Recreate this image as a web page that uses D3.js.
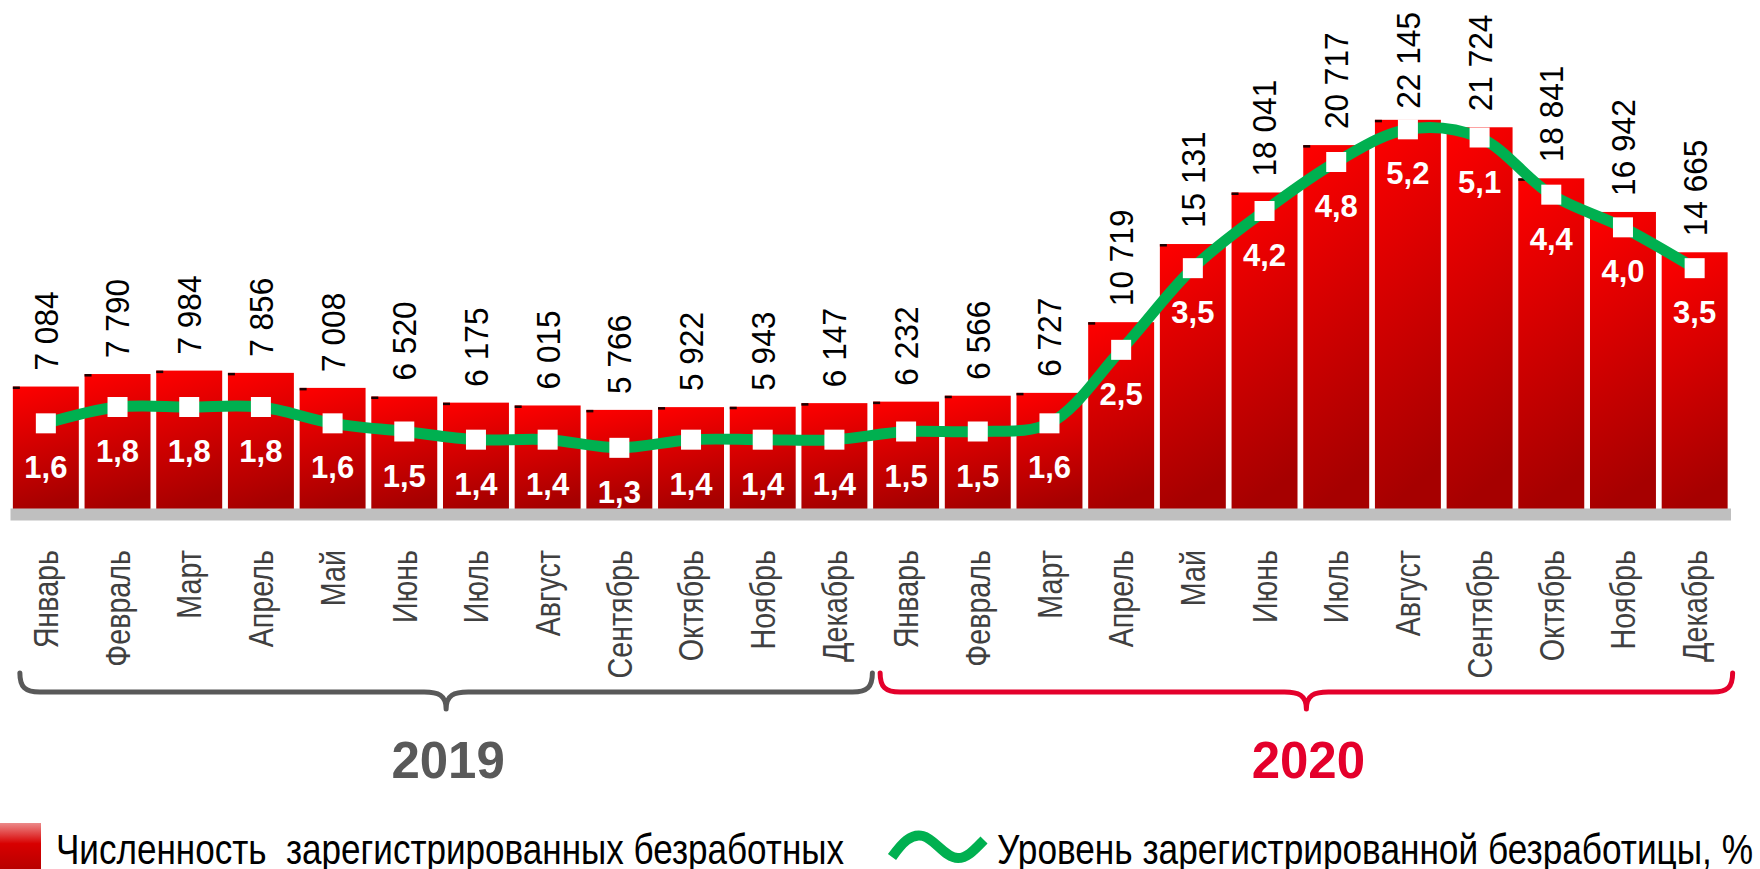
<!DOCTYPE html>
<html>
<head>
<meta charset="utf-8">
<script src="https://cdn.jsdelivr.net/npm/d3@7"></script>
<style>
  html, body { margin: 0; padding: 0; background: #ffffff; }
  svg { display: block; font-family: "Liberation Sans", Arial, sans-serif; }
</style>
</head>
<body>
<svg id="chart" width="1760" height="869"></svg>
<script>
// ---------------- DATA ----------------
const months2019 = ["Январь","Февраль","Март","Апрель","Май","Июнь","Июль","Август","Сентябрь","Октябрь","Ноябрь","Декабрь"];
const months2020 = ["Январь","Февраль","Март","Апрель","Май","Июнь","Июль","Август","Сентябрь","Октябрь","Ноябрь","Декабрь"];
const years = ["2019", "2020"];
const unemployedCount = [7084, 7790, 7984, 7856, 7008, 6520, 6175, 6015, 5766, 5922, 5943, 6147,
                         6232, 6566, 6727, 10719, 15131, 18041, 20717, 22145, 21724, 18841, 16942, 14665];
const unemploymentRate = [1.6, 1.8, 1.8, 1.8, 1.6, 1.5, 1.4, 1.4, 1.3, 1.4, 1.4, 1.4,
                          1.5, 1.5, 1.6, 2.5, 3.5, 4.2, 4.8, 5.2, 5.1, 4.4, 4.0, 3.5];
const legendLabels = ["Численность  зарегистрированных безработных", "Уровень зарегистрированной безработицы, %"];

// ---------------- SETUP ----------------
const monthLabels = months2019.concat(months2020);
const n = unemployedCount.length;
const svg = d3.select("#chart");
const locale = d3.formatLocale({ decimal: ",", thousands: "\u00a0", grouping: [3], currency: ["", ""] });
const fmtCount = locale.format(",d");
const fmtRate = locale.format(".1f");

const x = d3.scaleBand().domain(d3.range(n)).range([10, 1730.5]).paddingInner(0.08).paddingOuter(0.04);
const yBar = d3.scaleLinear().domain([0, 25000]).range([512, 69.25]);
const yRate = d3.scaleLinear().domain([0, 6]).range([554, 64]);
const bw = x.bandwidth();
const cx = i => x(i) + bw / 2;

const defs = svg.append("defs");
const g1 = defs.append("linearGradient").attr("id", "barGrad").attr("x1", 0).attr("y1", 0).attr("x2", 0.15).attr("y2", 1);
g1.append("stop").attr("offset", "0%").attr("stop-color", "#ff0000");
g1.append("stop").attr("offset", "100%").attr("stop-color", "#a60000");
const g2 = defs.append("linearGradient").attr("id", "legGrad").attr("x1", 0).attr("y1", 0).attr("x2", 0).attr("y2", 1);
g2.append("stop").attr("offset", "0%").attr("stop-color", "#ec8a8a");
g2.append("stop").attr("offset", "45%").attr("stop-color", "#d80000");
g2.append("stop").attr("offset", "100%").attr("stop-color", "#b80000");

// ---------------- BARS ----------------
svg.append("g").selectAll("rect").data(unemployedCount).join("rect")
  .attr("x", (d, i) => x(i))
  .attr("y", d => yBar(d))
  .attr("width", bw)
  .attr("height", d => yBar(0) - yBar(d))
  .attr("fill", "url(#barGrad)");

// small dark tick at bar top-left (as in the reference)
svg.append("g").selectAll("rect").data(unemployedCount).join("rect")
  .attr("x", (d, i) => x(i))
  .attr("y", d => yBar(d))
  .attr("width", 7)
  .attr("height", 2.5)
  .attr("fill", "#1a0000");

// ---------------- X AXIS ----------------
const axis = svg.append("g")
  .attr("transform", "translate(0,514)")
  .call(d3.axisBottom(x).tickSize(0).tickSizeOuter(0).tickFormat(i => monthLabels[i]));
axis.select(".domain").attr("stroke", "#bfbfbf").attr("stroke-width", 12);
axis.selectAll(".tick text")
  .attr("x", 0).attr("y", 0).attr("dy", "0.35em")
  .attr("text-anchor", "end")
  .attr("transform", "translate(0,36) rotate(-90) scale(0.82,1)")
  .attr("fill", "#404040")
  .style("font-size", "35px")
  .style("font-family", "\"Liberation Sans\", Arial, sans-serif");

// ---------------- VALUE LABELS (above bars) ----------------
const vl = svg.append("g").selectAll("text").data(unemployedCount).join("text")
  .text(d => fmtCount(d))
  .attr("x", 0).attr("y", 0).attr("dy", "0.35em")
  .attr("text-anchor", "start")
  .attr("fill", "#000")
  .style("font-size", "34px");
vl.each(function (d, i) {
  const sx = 0.93;
  const len = this.getComputedTextLength() * sx;
  const bottom = Math.max(yBar(d) - 16, 12 + len);
  d3.select(this).attr("transform", `translate(${cx(i)},${bottom}) rotate(-90) scale(${sx},1)`);
});

// ---------------- LINE ----------------
const line = d3.line().x((d, i) => cx(i)).y(d => yRate(d)).curve(d3.curveCatmullRom.alpha(0.5));
svg.append("path").datum(unemploymentRate)
  .attr("d", line)
  .attr("fill", "none")
  .attr("stroke", "#00b050")
  .attr("stroke-width", 11);

svg.append("g").selectAll("rect").data(unemploymentRate).join("rect")
  .attr("x", (d, i) => cx(i) - 10)
  .attr("y", d => yRate(d) - 10)
  .attr("width", 20).attr("height", 20)
  .attr("fill", "#ffffff");

svg.append("g").selectAll("text").data(unemploymentRate).join("text")
  .text(d => fmtRate(d))
  .attr("x", (d, i) => cx(i))
  .attr("y", d => yRate(d) + 55)
  .attr("text-anchor", "middle")
  .attr("fill", "#ffffff")
  .style("font-size", "31px")
  .style("font-weight", "bold");

// ---------------- BRACES & YEARS ----------------
function bracePath(x0, x1) {
  const yTop = 673, yMid = 692, yTip = 709, r = 20;
  const c = (x0 + x1) / 2;
  return `M${x0},${yTop} C${x0},${yMid - 5} ${x0 + 5},${yMid} ${x0 + r},${yMid}` +
    ` L${c - 22},${yMid} C${c - 8},${yMid} ${c},${yMid + 3} ${c},${yTip}` +
    ` C${c},${yMid + 3} ${c + 8},${yMid} ${c + 22},${yMid}` +
    ` L${x1 - r},${yMid} C${x1 - 5},${yMid} ${x1},${yMid - 5} ${x1},${yTop}`;
}
const yearColors = ["#595959", "#e4002b"];
years.forEach((yr, k) => {
  const first = k * 12, last = k * 12 + 11;
  const x0 = x(first) + 7, x1 = x(last) + bw + 5;
  svg.append("path").attr("d", bracePath(x0, x1))
    .attr("fill", "none").attr("stroke", yearColors[k]).attr("stroke-width", 5)
    .attr("stroke-linecap", "round").attr("stroke-linejoin", "round");
  svg.append("text").text(yr)
    .attr("x", (x0 + x1) / 2 + 2).attr("y", 778)
    .attr("text-anchor", "middle")
    .attr("fill", yearColors[k])
    .style("font-size", "51px").style("font-weight", "bold");
});

// ---------------- LEGEND ----------------
svg.append("rect").attr("x", 0).attr("y", 823).attr("width", 41).attr("height", 46).attr("fill", "url(#legGrad)");
const lt1 = svg.append("text").text(legendLabels[0])
  .attr("x", 56).attr("y", 864).attr("fill", "#000")
  .style("font-size", "42px").style("white-space", "pre");
lt1.attr("textLength", 788).attr("lengthAdjust", "spacingAndGlyphs");

svg.append("path")
  .attr("d", "M892,857 C902,843 911,833 923,836 C935,839 945,858 958,858 C968,858 976,848 984,840")
  .attr("fill", "none").attr("stroke", "#00b050").attr("stroke-width", 10);
const lt2 = svg.append("text").text(legendLabels[1])
  .attr("x", 997).attr("y", 864).attr("fill", "#000")
  .style("font-size", "42px").style("white-space", "pre");
lt2.attr("textLength", 756).attr("lengthAdjust", "spacingAndGlyphs");
</script>
</body>
</html>
